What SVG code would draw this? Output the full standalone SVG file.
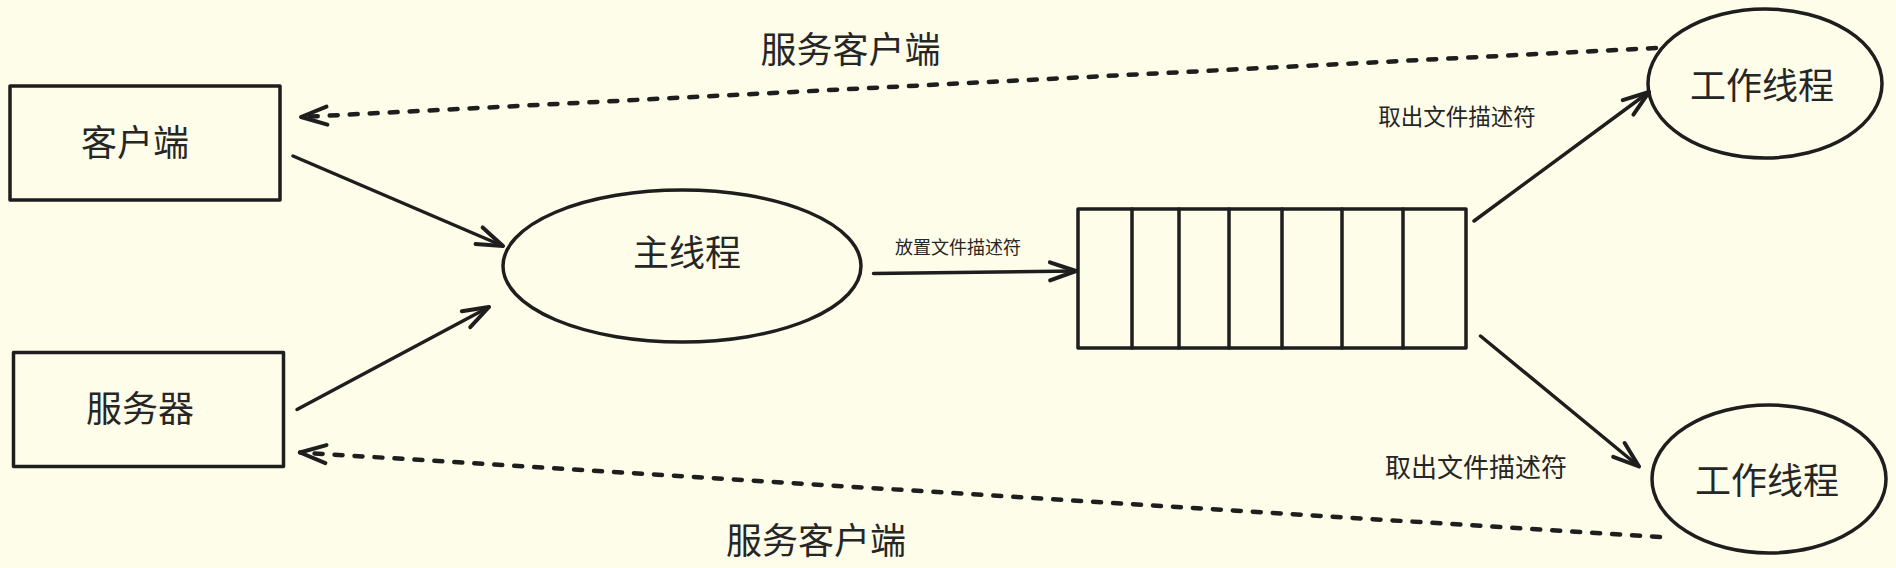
<svg xmlns="http://www.w3.org/2000/svg" width="1896" height="568" viewBox="0 0 1896 568">
<style>
.bg{fill:#fefde9}
.shape{fill:none;stroke:#1e1e1e;stroke-width:3.5;stroke-linejoin:round;stroke-linecap:round}
.line{fill:none;stroke:#1e1e1e;stroke-width:3.5;stroke-linecap:round;stroke-linejoin:round}
.dash{fill:none;stroke:#1e1e1e;stroke-width:4.5;stroke-linecap:round;stroke-dasharray:8 12}
.t{font-family:"Noto Sans CJK SC","Noto Sans",sans-serif;fill:#262626;text-anchor:middle;dominant-baseline:central}
.big{font-size:36px}
</style>
<defs>
<marker id="ah" markerUnits="userSpaceOnUse" orient="auto" refX="0" refY="0" markerWidth="40" markerHeight="40" overflow="visible">
<path d="M-26,-9 L0,0 L-26,9" fill="none" stroke="#1e1e1e" stroke-width="4" stroke-linecap="round" stroke-linejoin="round" stroke-dasharray="none"/>
</marker>
</defs>
<rect class="bg" x="0" y="0" width="1896" height="568"/>
<g id="client">
<rect class="shape" x="10" y="86" width="270" height="114"/>
<text class="t big" x="135" y="139.5">客户端</text>
</g>
<g id="server">
<rect class="shape" x="13.5" y="352.5" width="270" height="114"/>
<text class="t big" x="140" y="406">服务器</text>
</g>
<g id="main-thread">
<ellipse class="shape" cx="682" cy="266" rx="179" ry="76"/>
<text class="t big" x="687" y="250">主线程</text>
</g>
<g id="queue">
<rect class="shape" x="1078" y="209" width="388" height="139"/>
<path class="shape" d="M1132,209V348M1179,209V348M1229,209V348M1282,209V348M1342,209V348M1403,209V348"/>
</g>
<g id="worker-top">
<ellipse class="shape" cx="1765" cy="83.5" rx="117" ry="74.5"/>
<text class="t big" x="1762" y="82.5">工作线程</text>
</g>
<g id="worker-bottom">
<ellipse class="shape" cx="1769" cy="479" rx="117" ry="74"/>
<text class="t big" x="1767" y="478">工作线程</text>
</g>
<g id="connectors">
<path class="line" d="M293,156 L503,246" marker-end="url(#ah)"/>
<path class="line" d="M297,409.5 L489,307" marker-end="url(#ah)"/>
<path class="line" d="M873.5,273.5 L1076,271" marker-end="url(#ah)"/>
<path class="line" d="M1474,221 L1649,92" marker-end="url(#ah)"/>
<path class="line" d="M1480.5,336 L1639,466.5" marker-end="url(#ah)"/>
<path class="dash" d="M1656,48 L301,117" marker-end="url(#ah)"/>
<path class="dash" d="M1660,537 L300,452.5" marker-end="url(#ah)"/>
<text class="t big" x="850.5" y="47">服务客户端</text>
<text class="t big" x="816" y="538">服务客户端</text>
<text class="t" x="958" y="246" font-size="18">放置文件描述符</text>
<text class="t" x="1457" y="114.5" font-size="22.5">取出文件描述符</text>
<text class="t" x="1476" y="465" font-size="26">取出文件描述符</text>
</g>
</svg>
